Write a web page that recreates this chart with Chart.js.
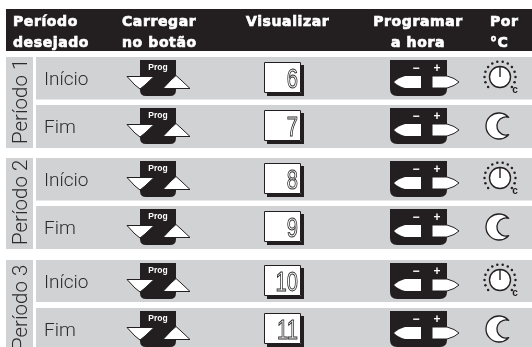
<!DOCTYPE html>
<html>
<head>
<meta charset="utf-8">
<style>
  html, body { margin: 0; padding: 0; background: #fff; }
  canvas { display: block; }
</style>
<script src="https://cdn.jsdelivr.net/npm/chart.js@4"></script>
</head>
<body>
<canvas id="chart" width="532" height="347"></canvas>
<script>
const INK = "#231f20";
const GREY = "#d1d2d4";

// -------- Table content
const headerLines = [
  { lines: ["Período", "desejado"], x: 13, align: "left" },
  { lines: ["Carregar", "no botão"], x: 122, align: "left" },
  { lines: ["Visualizar"], x: 246, align: "left" },
  { lines: ["Programar", "a hora"], x: 418, align: "center" },
  { lines: ["Por", "°C"], x: 490, align: "left" },
];
const periodNames = ["Período 1", "Período 2", "Período 3"];
const periodTops = [57, 158, 260];
const periodBottoms = [148, 249, 347];
const rowLabels = ["Início", "Fim", "Início", "Fim", "Início", "Fim"];
const rowTops = [57, 105, 158, 206, 260, 308];
const rowBottoms = [99.5, 148, 200.5, 249, 302, 347];
const rowCenters = [78, 126, 179, 227, 281, 329];
const displayValues = ["6", "7", "8", "9", "10", "11"];
const progColumn = [158, 158, 158, 158, 158, 158];
const displayColumn = [284, 284, 284, 284, 284, 284];
const timeColumn = [425, 425, 425, 425, 425, 425];
const modeColumn = [502, 500, 502, 500, 502, 500];

// -------- Icons, used as point styles
function sprite(w, h, draw) {
  const c = document.createElement("canvas");
  c.width = w;
  c.height = h;
  const g = c.getContext("2d");
  g.fillStyle = INK;
  g.strokeStyle = INK;
  g.lineJoin = "round";
  draw(g);
  return c;
}

function blackTab(g, x, y, w, h, r) {
  g.beginPath();
  g.moveTo(x, y);
  g.lineTo(x + w, y);
  g.lineTo(x + w, y + h - r);
  g.quadraticCurveTo(x + w, y + h, x + w - r, y + h);
  g.lineTo(x + r, y + h);
  g.quadraticCurveTo(x, y + h, x, y + h - r);
  g.closePath();
  g.fill();
}

const progIcon = sprite(70, 40, (g) => {
  blackTab(g, 17, 2, 36, 36, 6);
  g.fillStyle = "#fff";
  g.lineWidth = 1;
  g.beginPath();
  g.moveTo(4, 18.5);
  g.lineTo(31, 18.5);
  g.lineTo(22, 27);
  g.lineTo(17, 31);
  g.lineTo(12, 27);
  g.closePath();
  g.fill();
  g.stroke();
  g.beginPath();
  g.moveTo(40, 30.5);
  g.lineTo(67, 30.5);
  g.lineTo(58, 22);
  g.lineTo(53, 17.5);
  g.lineTo(48, 22);
  g.closePath();
  g.fill();
  g.stroke();
});

const timeIcon = sprite(76, 40, (g) => {
  blackTab(g, 3, 2, 57, 36, 7);
  g.fillStyle = "#fff";
  g.lineWidth = 1;
  g.beginPath();
  g.moveTo(34, 18);
  g.lineTo(34, 30);
  g.lineTo(18, 30);
  g.quadraticCurveTo(11, 28, 7, 24);
  g.quadraticCurveTo(11, 20, 18, 18);
  g.closePath();
  g.fill();
  g.beginPath();
  g.moveTo(45, 18);
  g.lineTo(45, 30);
  g.lineTo(60, 30);
  g.quadraticCurveTo(68, 28, 72, 24);
  g.quadraticCurveTo(68, 20, 60, 18);
  g.closePath();
  g.fill();
  g.stroke();
});

const displayBox = sprite(44, 38, (g) => {
  g.fillRect(5, 6, 37, 31);
  g.fillStyle = "#fff";
  g.lineWidth = 1;
  g.fillRect(2, 3, 37, 31);
  g.strokeRect(2.5, 3.5, 36, 30);
});

const knobIcon = sprite(44, 44, (g) => {
  const cx = 20, cy = 21;
  g.lineWidth = 1.4;
  g.fillStyle = "#fff";
  g.beginPath();
  g.arc(cx, cy, 10.5, 0, Math.PI * 2);
  g.fill();
  g.stroke();
  g.beginPath();
  g.moveTo(cx, cy);
  g.lineTo(cx, cy - 10);
  g.stroke();
  g.fillStyle = INK;
  for (let deg = -220; deg <= 40; deg += 20) {
    const a = (deg * Math.PI) / 180;
    g.beginPath();
    g.arc(cx + 15.5 * Math.cos(a), cy + 15.5 * Math.sin(a), 1.25, 0, Math.PI * 2);
    g.fill();
  }
});

const moonIcon = sprite(36, 36, (g) => {
  const cx = 17, cy = 18;
  g.fillStyle = "#fff";
  g.lineWidth = 1.3;
  g.beginPath();
  g.arc(cx, cy, 13, -0.73, 0.73, true);
  g.arc(cx + 7, cy, 9.1, 1.27, -1.27, false);
  g.closePath();
  g.fill();
  g.stroke();
});

const modeIcons = rowLabels.map((_, i) => (i % 2 === 0 ? knobIcon : moonIcon));

function points(xs) {
  return xs.map((x, i) => ({ x: x, y: rowCenters[i] }));
}

function iconSet(xs, style) {
  return {
    data: points(xs),
    pointStyle: style,
    pointRadius: 10,
    showLine: false,
  };
}

// -------- Bands and text
const tablePlugin = {
  id: "table",
  beforeDatasetsDraw(chart) {
    const { ctx, scales } = chart;
    const x = scales.x, y = scales.y;
    ctx.save();
    ctx.fillStyle = INK;
    ctx.fillRect(x.getPixelForValue(6), y.getPixelForValue(9), x.getPixelForValue(532) - x.getPixelForValue(6), y.getPixelForValue(51) - y.getPixelForValue(9));
    ctx.fillStyle = GREY;
    rowTops.forEach((top, i) => {
      const a = y.getPixelForValue(top);
      ctx.fillRect(x.getPixelForValue(36), a, x.getPixelForValue(532) - x.getPixelForValue(36), y.getPixelForValue(rowBottoms[i]) - a);
    });
    periodTops.forEach((top, i) => {
      const a = y.getPixelForValue(top);
      ctx.fillRect(x.getPixelForValue(6), a, x.getPixelForValue(33) - x.getPixelForValue(6), y.getPixelForValue(periodBottoms[i]) - a);
    });
    ctx.restore();
  },
  afterDatasetsDraw(chart) {
    const { ctx, scales } = chart;
    const x = scales.x, y = scales.y;
    ctx.save();
    ctx.textBaseline = "alphabetic";

    // header, thickened with a stroke to get close to the black face
    ctx.fillStyle = "#fff";
    ctx.strokeStyle = "#fff";
    ctx.lineWidth = 0.7;
    ctx.font = "bold 14px 'DejaVu Sans'";
    ctx.letterSpacing = "0.6px";
    headerLines.forEach((h) => {
      ctx.textAlign = h.align;
      h.lines.forEach((line, i) => {
        const px = x.getPixelForValue(h.x), py = y.getPixelForValue(26 + i * 21);
        ctx.fillText(line, px, py);
        ctx.strokeText(line, px, py);
      });
    });
    ctx.letterSpacing = "0px";

    // row labels
    ctx.fillStyle = "#2d2a2b";
    ctx.textAlign = "left";
    ctx.font = "300 19px Roboto";
    rowLabels.forEach((label, i) => {
      ctx.fillText(label, x.getPixelForValue(44), y.getPixelForValue(rowCenters[i] + 7));
    });

    // period names, turned on their side
    ctx.font = "300 20.5px Roboto";
    periodNames.forEach((name, i) => {
      ctx.save();
      ctx.translate(x.getPixelForValue(27), y.getPixelForValue(periodBottoms[i] === 347 ? 350 : periodBottoms[i] - 4));
      ctx.rotate(-Math.PI / 2);
      ctx.fillText(name, 0, 0);
      ctx.restore();
    });

    // Prog and -/+ on the buttons
    ctx.fillStyle = "#fff";
    ctx.textAlign = "center";
    rowCenters.forEach((c) => {
      ctx.font = "bold 8.5px 'Liberation Sans'";
      ctx.fillText("Prog", x.getPixelForValue(158), y.getPixelForValue(c - 8));
      ctx.font = "bold 12px 'Liberation Sans'";
      ctx.fillText("−", x.getPixelForValue(416), y.getPixelForValue(c - 6));
      ctx.fillText("+", x.getPixelForValue(437), y.getPixelForValue(c - 6));
    });

    // display digits
    ctx.lineWidth = 1;
    ctx.strokeStyle = "#2d2a2b";
    ctx.textAlign = "right";
    ctx.font = "28px 'Liberation Sans'";
    displayValues.forEach((v, i) => {
      ctx.save();
      ctx.translate(x.getPixelForValue(298), y.getPixelForValue(rowCenters[i] + 10));
      ctx.scale(0.72, 1);
      ctx.fillStyle = "#fff";
      ctx.fillText(v, 0, 0);
      ctx.strokeText(v, 0, 0);
      ctx.restore();
    });

    // little c next to the knob
    ctx.fillStyle = INK;
    ctx.textAlign = "center";
    ctx.font = "bold 10px 'Liberation Sans'";
    rowCenters.forEach((c, i) => {
      if (i % 2 === 0) ctx.fillText("c", x.getPixelForValue(515), y.getPixelForValue(c + 15));
    });
    ctx.restore();
  },
};

new Chart(document.getElementById("chart"), {
  type: "scatter",
  data: {
    datasets: [
      iconSet(progColumn, progIcon),
      iconSet(displayColumn, displayBox),
      iconSet(timeColumn, timeIcon),
      iconSet(modeColumn, modeIcons),
    ],
  },
  options: {
    responsive: false,
    animation: false,
    layout: { padding: 0, autoPadding: false },
    plugins: { legend: { display: false }, tooltip: { enabled: false } },
    scales: {
      x: { type: "linear", min: 0, max: 532, display: false },
      y: { type: "linear", min: 0, max: 347, reverse: true, display: false },
    },
  },
  plugins: [tablePlugin],
});
</script>
</body>
</html>
